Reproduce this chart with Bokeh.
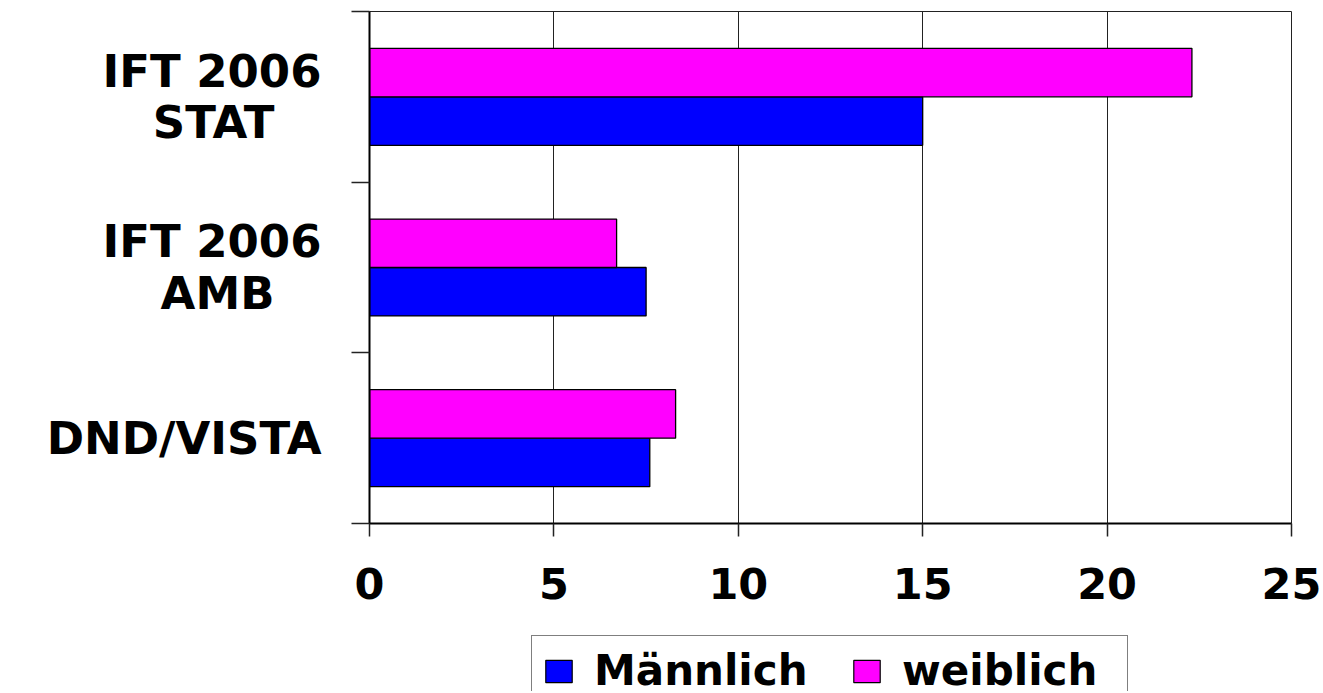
from bokeh.plotting import figure
from bokeh.layouts import column
from bokeh.models import ColumnDataSource, Range1d, FixedTicker, Legend, LegendItem
from bokeh.embed import file_html
from bokeh.resources import INLINE

# ---- data ----
categories = ["IFT 2006\nSTAT", "IFT 2006\nAMB", "DND/VISTA"]
maennlich = [15.0, 7.5, 7.6]
weiblich = [22.3, 6.7, 8.3]
series_names = ["Männlich", "weiblich"]
series_colors = ["#0000FF", "#FF00FF"]
x_ticks = [0, 5, 10, 15, 20, 25]

# ---- layout / style ----
FONT = "DejaVu Sans"
FS = "43px"
FS_CAT = "45px"
bar_h = 0.284
pad_spaces = [3, 3, 0]   # non-breaking spaces so that the 2nd line looks centred under the 1st

n = len(categories)
centers = [n - i - 0.5 for i in range(n)]
src = ColumnDataSource(dict(
    cat=categories, m=maennlich, w=weiblich,
    ym=[c - bar_h / 2 for c in centers],
    yw=[c + bar_h / 2 for c in centers],
))

W = 1321
p = figure(width=W, height=635, output_backend="svg", toolbar_location=None, title=None,
           x_range=Range1d(x_ticks[0], x_ticks[-1]), y_range=Range1d(0, n),
           min_border_left=369, min_border_right=30, min_border_top=11, min_border_bottom=112)
p.background_fill_color = "white"
p.border_fill_color = "white"
p.outline_line_color = "#222222"
p.outline_line_width = 1

p.hbar(y="ym", left=0, right="m", height=bar_h, source=src,
       fill_color=series_colors[0], line_color="black", line_width=1.3)
p.hbar(y="yw", left=0, right="w", height=bar_h, source=src,
       fill_color=series_colors[1], line_color="black", line_width=1.3)

# grid
p.xgrid.ticker = FixedTicker(ticks=x_ticks)
p.xgrid.grid_line_color = "#222222"
p.xgrid.grid_line_width = 1
p.ygrid.visible = False

# x axis
xa = p.xaxis[0]
xa.ticker = FixedTicker(ticks=x_ticks)
xa.major_tick_out = 13
xa.major_tick_in = 0
xa.minor_tick_out = 0
xa.minor_tick_in = 0
xa.axis_line_width = 2
xa.axis_line_color = "black"
xa.major_tick_line_color = "#222222"
xa.major_tick_line_width = 1.5
xa.major_label_standoff = 31
xa.major_label_text_font = FONT
xa.major_label_text_font_style = "bold"
xa.major_label_text_font_size = FS
xa.major_label_text_color = "black"

# y axis: labels at category centres (major), tick marks at boundaries (minor)
ya = p.yaxis[0]
ya.ticker = FixedTicker(ticks=centers, minor_ticks=list(range(n + 1)))
ya.major_label_overrides = {c: cat + "\u00a0" * k for c, cat, k in zip(centers, categories, pad_spaces)}
ya.major_tick_out = 0
ya.major_tick_in = 0
ya.major_tick_line_color = None
ya.minor_tick_out = 18
ya.minor_tick_in = 0
ya.minor_tick_line_color = "#222222"
ya.minor_tick_line_width = 1.5
ya.axis_line_width = 2
ya.axis_line_color = "black"
ya.major_label_standoff = 30
ya.major_label_text_font = FONT
ya.major_label_text_font_style = "bold"
ya.major_label_text_font_size = FS_CAT
ya.major_label_text_color = "black"
ya.major_label_text_line_height = 0.97

# ---- legend strip below the chart ----
p2 = figure(width=W, height=56, output_backend="svg", toolbar_location=None, title=None,
            x_range=Range1d(0, 25), y_range=Range1d(100, 101), x_axis_type=None, y_axis_type=None,
            min_border_left=0, min_border_right=0, min_border_top=0, min_border_bottom=0)
p2.outline_line_color = None
p2.xgrid.visible = False
p2.ygrid.visible = False
p2.background_fill_color = "white"
p2.border_fill_color = "white"
# same series as the chart (outside this strip's view); they only feed the legend swatches
sw_m = p2.hbar(y="ym", left=0, right="m", height=bar_h, source=src,
               fill_color=series_colors[0], line_color="black", line_width=1.2)
sw_w = p2.hbar(y="yw", left=0, right="w", height=bar_h, source=src,
               fill_color=series_colors[1], line_color="black", line_width=1.2)
legend = Legend(items=[LegendItem(label=series_names[0], renderers=[sw_m]),
                       LegendItem(label=series_names[1], renderers=[sw_w])],
                location=(162, -15), orientation="horizontal", margin=0,
                padding=10, spacing=41, label_standoff=19,
                glyph_width=33, glyph_height=28, label_width=215,
                label_text_font=FONT, label_text_font_style="bold",
                label_text_font_size="42px", label_text_color="black",
                border_line_color="black", border_line_width=1.3,
                background_fill_color="white", background_fill_alpha=1)
p2.add_layout(legend)

open("out.html", "w").write(file_html(column(p, p2, spacing=0), INLINE))
